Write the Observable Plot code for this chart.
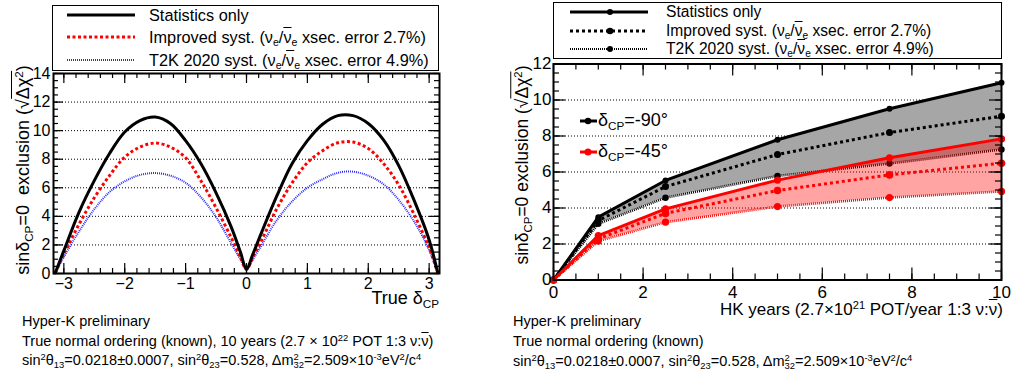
<!DOCTYPE html>
<html><head><meta charset="utf-8">
<script src="https://cdn.jsdelivr.net/npm/d3@7"></script>
<script src="https://cdn.jsdelivr.net/npm/@observablehq/plot@0.6"></script>
<style>
body{margin:0;width:1012px;height:380px;position:relative;background:#fff;font-family:"Liberation Sans",Arial,sans-serif;overflow:hidden;color:#000}
.abs{position:absolute;white-space:nowrap;line-height:1}
.ol{text-decoration:overline}
sub,sup{font-size:0.65em;line-height:0}
sub{vertical-align:-0.3em}
sup{vertical-align:0.55em}
.sq .ov{border-top:1.2px solid #000;padding-top:1px}
.box{position:absolute;border:1.5px solid #000;background:#fff;box-sizing:border-box}
.stack{display:inline-block;vertical-align:-0.35em;line-height:0.85;font-size:0.65em;text-align:left}
.stack span{display:block}
</style></head><body>
<div id="left" class="abs" style="left:0;top:0"></div>
<div id="right" class="abs" style="left:500px;top:0"></div>

<!-- left legend -->
<div class="box" style="left:52px;top:5px;width:387px;height:66px"></div>
<svg class="abs" style="left:0;top:0" width="460" height="75">
  <line x1="67" x2="135" y1="15" y2="15" stroke="#000" stroke-width="3"/>
  <line x1="67" x2="135" y1="37" y2="37" stroke="#f00" stroke-width="3" stroke-dasharray="3,2.5"/>
  <line x1="67" x2="135" y1="60" y2="60" stroke="#2a2aff" stroke-width="2" stroke-dasharray="1,1"/>
</svg>
<div class="abs" style="left:149px;top:7px;font-size:16.3px">Statistics only</div>
<div class="abs" style="left:149px;top:29px;font-size:16.3px">Improved syst. (ν<sub>e</sub>/<span class="ol">ν</span><sub>e</sub> xsec. error 2.7%)</div>
<div class="abs" style="left:149px;top:52px;font-size:16.3px">T2K 2020 syst. (ν<sub>e</sub>/<span class="ol">ν</span><sub>e</sub> xsec. error 4.9%)</div>

<!-- right legend -->
<div class="box" style="left:553px;top:2px;width:449px;height:57px"></div>
<svg class="abs" style="left:500px;top:0" width="512" height="60">
  <line x1="70" x2="148" y1="12" y2="12" stroke="#000" stroke-width="3"/>
  <circle cx="110" cy="12" r="3" fill="#000"/>
  <line x1="70" x2="148" y1="31" y2="31" stroke="#000" stroke-width="3" stroke-dasharray="3,3"/>
  <circle cx="110" cy="31" r="3.3" fill="#000"/>
  <line x1="70" x2="148" y1="49" y2="49" stroke="#000" stroke-width="2" stroke-dasharray="1,1"/>
  <circle cx="110" cy="49" r="3" fill="#000"/>
</svg>
<div class="abs" style="left:666px;top:4px;font-size:15.6px">Statistics only</div>
<div class="abs" style="left:666px;top:23px;font-size:15.6px">Improved syst. (ν<sub>e</sub>/<span class="ol">ν</span><sub>e</sub> xsec. error 2.7%)</div>
<div class="abs" style="left:666px;top:41px;font-size:15.6px">T2K 2020 syst. (ν<sub>e</sub>/<span class="ol">ν</span><sub>e</sub> xsec. error 4.9%)</div>

<!-- inset legend -->
<svg class="abs" style="left:570px;top:110px" width="40" height="55">
  <line x1="10" x2="27" y1="11" y2="11" stroke="#000" stroke-width="3"/>
  <circle cx="18" cy="11" r="3.2" fill="#000"/>
  <line x1="10" x2="27" y1="42" y2="42" stroke="#f00" stroke-width="3"/>
  <circle cx="18" cy="42" r="3.5" fill="#f00"/>
</svg>
<div class="abs" style="left:598px;top:111px;font-size:18px">δ<sub>CP</sub>=-90°</div>
<div class="abs" style="left:598px;top:142px;font-size:18px">δ<sub>CP</sub>=-45°</div>

<!-- axis titles -->
<div class="abs" style="left:23px;top:170px;font-size:18px;transform:translate(-50%,-50%) rotate(-90deg)">sinδ<sub>CP</sub>=0&nbsp;&nbsp;exclusion (<span class="sq">√<span class="ov">Δχ<sup>2</sup></span></span>)</div>
<div class="abs" style="left:523px;top:165px;font-size:17.5px;transform:translate(-50%,-50%) rotate(-90deg)">sinδ<sub>CP</sub>=0 exclusion (<span class="sq">√<span class="ov">Δχ<sup>2</sup></span></span>)</div>
<div class="abs" style="right:573px;top:289px;font-size:18px">True δ<sub>CP</sub></div>
<div class="abs" style="right:9px;top:301px;font-size:17px">HK years (2.7×10<sup>21</sup> POT/year 1:3 ν:<span class="ol">ν</span>)</div>

<!-- captions -->
<div class="abs" style="left:22px;top:314px;font-size:14.5px">Hyper-K preliminary</div>
<div class="abs" style="left:22px;top:334px;font-size:14.5px">True normal ordering (known), 10 years (2.7 × 10<sup>22</sup> POT 1:3 ν:<span class="ol">ν</span>)</div>
<div class="abs" style="left:22px;top:353px;font-size:14.5px">sin<sup>2</sup>θ<sub>13</sub>=0.0218±0.0007, sin<sup>2</sup>θ<sub>23</sub>=0.528, Δm<span class="stack"><span>2</span><span>32</span></span>=2.509×10<sup>-3</sup>eV<sup>2</sup>/c<sup>4</sup></div>
<div class="abs" style="left:513px;top:314px;font-size:14.5px">Hyper-K preliminary</div>
<div class="abs" style="left:513px;top:334px;font-size:14.5px">True normal ordering (known)</div>
<div class="abs" style="left:513px;top:354px;font-size:14.5px">sin<sup>2</sup>θ<sub>13</sub>=0.0218±0.0007, sin<sup>2</sup>θ<sub>23</sub>=0.528, Δm<span class="stack"><span>2</span><span>32</span></span>=2.509×10<sup>-3</sup>eV<sup>2</sup>/c<sup>4</sup></div>

<script>
// ---------- left panel data: sqrt(Δχ²) vs true δCP ----------
const deltaCP = [-3.14,-3.0,-2.75,-2.5,-2.25,-2.0,-1.75,-1.5,-1.25,-1.0,-0.75,-0.5,-0.25,-0.1,0,0.1,0.25,0.5,0.75,1.0,1.25,1.5,1.75,2.0,2.25,2.5,2.75,3.0,3.14];
const statsOnly = [0.05,1.6,4.3,6.5,8.4,9.9,10.7,10.95,10.5,9.3,7.7,5.65,3.25,1.5,0.3,1.3,2.9,5.45,7.7,9.3,10.45,11.05,11.05,10.5,9.35,7.55,5.15,2.35,0.05];
const improvedSyst = [0.05,1.35,3.45,5.3,6.85,8.15,8.85,9.13,8.85,8.1,6.5,4.6,2.5,1.15,0.3,1.1,2.35,4.55,6.35,7.75,8.6,9.15,9.2,8.75,7.7,6.2,4.15,1.8,0.05];
const t2k2020Syst = [0.05,1.15,2.95,4.5,5.7,6.45,6.9,7.03,6.85,6.35,5.35,3.95,2.1,1.0,0.3,0.95,2.0,3.75,5.05,6.0,6.6,7.05,7.13,6.85,6.25,5.15,3.65,1.65,0.05];
const leftXTicks = [-3,-2,-1,0,1,2,3];
const leftYTicks = [0,2,4,6,8,10,12,14];
const leftGrid = [2,4,6,8,10,12];

// ---------- right panel data: sqrt(Δχ²) vs HK years ----------
const hkYears = [0,1,2.5,5,7.5,10];
const m90Stats = [0,3.49,5.53,7.79,9.51,10.96];
const m90Improved = [0,3.30,5.19,6.97,8.19,9.10];
const m90T2K = [0,3.12,4.57,5.78,6.47,7.25];
const m45Stats = [0,2.47,3.95,5.55,6.79,7.84];
const m45Improved = [0,2.29,3.70,4.97,5.84,6.49];
const m45T2K = [0,2.16,3.21,4.08,4.58,4.92];
const rightXTicks = [0,2,4,6,8,10];
const rightYTicks = [0,2,4,6,8,10,12];
const rightGrid = [2,4,6,8,10];

const font = '"Liberation Sans", Arial, sans-serif';
const minus = d => d < 0 ? "\u2212" + Math.abs(d) : String(d);

const leftRows = deltaCP.map((d,i)=>({delta:d, stats:statsOnly[i], improved:improvedSyst[i], t2k:t2k2020Syst[i]}));
const lxDom = [-3.17, 3.17];
const lyDom = [0, 14];
const lxMinor = d3.range(-32, 33, 2).map(v=>v/10).filter(v=>v>=lxDom[0]&&v<=lxDom[1]);
const lyMinor = d3.range(0, 14.01, 0.5);

// inward ticks on all four sides of the frame (lengths in px converted to data units)
function frameTicks(xDom, yDom, fw, fh, xMaj, xMin, yMaj, yMin, majLen, minLen){
  const kx = (xDom[1]-xDom[0]) / fw, ky = (yDom[1]-yDom[0]) / fh;
  const st = {stroke:"#000", strokeWidth:1.2};
  const xt = (ticks, len) => [
    Plot.ruleX(ticks, {x:d=>d, y1:yDom[0], y2:yDom[0] + len*ky, ...st}),
    Plot.ruleX(ticks, {x:d=>d, y1:yDom[1] - len*ky, y2:yDom[1], ...st})
  ];
  const yt = (ticks, len) => [
    Plot.ruleY(ticks, {y:d=>d, x1:xDom[0], x2:xDom[0] + len*kx, ...st}),
    Plot.ruleY(ticks, {y:d=>d, x1:xDom[1] - len*kx, x2:xDom[1], ...st})
  ];
  return [...xt(xMaj, majLen), ...xt(xMin, minLen), ...yt(yMaj, majLen), ...yt(yMin, minLen)];
}
const dash = {strokeLinecap:"butt", strokeLinejoin:"miter"};

const left = Plot.plot({
  width: 460, height: 310,
  marginLeft: 53, marginRight: 21, marginTop: 73, marginBottom: 37,
  x: {domain: lxDom, label: null},
  y: {domain: lyDom, label: null},
  style: {fontFamily: font, fontSize: "16px", color: "#000", background: "transparent", overflow: "visible"},
  marks: [
    Plot.gridY(leftGrid, {stroke:"#000", strokeOpacity:1, strokeDasharray:"1,2", strokeWidth:1}),
    Plot.line(leftRows, {x:"delta", y:"t2k", stroke:"#2a2aff", strokeWidth:2, strokeDasharray:"1,1", curve:"catmull-rom", ...dash}),
    Plot.line(leftRows, {x:"delta", y:"improved", stroke:"#f00", strokeWidth:3, strokeDasharray:"3,2.5", curve:"catmull-rom", ...dash}),
    Plot.line(leftRows, {x:"delta", y:"stats", stroke:"#000", strokeWidth:3, curve:"catmull-rom"}),
    ...frameTicks(lxDom, lyDom, 386, 200, leftXTicks, lxMinor, leftYTicks, lyMinor, 10, 5),
    Plot.axisX(leftXTicks, {anchor:"bottom", tickSize:0, tickPadding:4, label:null, tickFormat:minus}),
    Plot.axisY(leftYTicks, {anchor:"left", tickSize:0, tickPadding:3, label:null}),
    Plot.frame({stroke:"#000", strokeWidth:2})
  ]
});
document.getElementById("left").append(left);

const rightRows = hkYears.map((x,i)=>({yr:x, s90:m90Stats[i], i90:m90Improved[i], t90:m90T2K[i], s45:m45Stats[i], i45:m45Improved[i], t45:m45T2K[i]}));
const rxDom = [0, 10], ryDom = [0, 12];
const rxMinor = d3.range(0, 10.01, 0.5);
const ryMinor = d3.range(0, 12.01, 0.5);

const right = Plot.plot({
  width: 512, height: 320,
  marginLeft: 53, marginRight: 11, marginTop: 63.5, marginBottom: 40.5,
  x: {domain: rxDom, label: null},
  y: {domain: ryDom, label: null},
  style: {fontFamily: font, fontSize: "17px", color: "#000", background: "transparent", overflow: "visible"},
  marks: [
    Plot.gridY(rightGrid, {stroke:"#000", strokeOpacity:1, strokeDasharray:"1,2", strokeWidth:1}),
    Plot.areaY(rightRows, {x:"yr", y1:"t90", y2:"s90", fill:"#a6a6a6"}),
    Plot.line(rightRows, {x:"yr", y:"t90", stroke:"#000", strokeWidth:2.5, strokeDasharray:"1,1", ...dash}),
    Plot.line(rightRows, {x:"yr", y:"i90", stroke:"#000", strokeWidth:3, strokeDasharray:"3,3", ...dash}),
    Plot.line(rightRows, {x:"yr", y:"s90", stroke:"#000", strokeWidth:3}),
    Plot.dot(rightRows, {x:"yr", y:"t90", r:3.2, fill:"#000"}),
    Plot.dot(rightRows, {x:"yr", y:"i90", r:3.5, fill:"#000"}),
    Plot.dot(rightRows, {x:"yr", y:"s90", r:3, fill:"#000"}),
    Plot.areaY(rightRows, {x:"yr", y1:"t45", y2:"s45", fill:"#ff0000", fillOpacity:0.36}),
    Plot.line(rightRows, {x:"yr", y:"t45", stroke:"#f00", strokeWidth:2.5, strokeDasharray:"1,1", ...dash}),
    Plot.line(rightRows, {x:"yr", y:"i45", stroke:"#f00", strokeWidth:3, strokeDasharray:"3,3", ...dash}),
    Plot.line(rightRows, {x:"yr", y:"s45", stroke:"#f00", strokeWidth:3}),
    Plot.dot(rightRows, {x:"yr", y:"t45", r:3.6, fill:"#f00"}),
    Plot.dot(rightRows, {x:"yr", y:"i45", r:3.8, fill:"#f00"}),
    Plot.dot(rightRows, {x:"yr", y:"s45", r:3.6, fill:"#f00"}),
    ...frameTicks(rxDom, ryDom, 448, 216, rightXTicks, rxMinor, rightYTicks, ryMinor, 12, 6),
    Plot.axisX(rightXTicks, {anchor:"bottom", tickSize:0, tickPadding:6, label:null}),
    Plot.axisY(rightYTicks, {anchor:"left", tickSize:0, tickPadding:2, label:null}),
    Plot.frame({stroke:"#000", strokeWidth:2})
  ]
});
document.getElementById("right").append(right);
</script>
</body></html>
